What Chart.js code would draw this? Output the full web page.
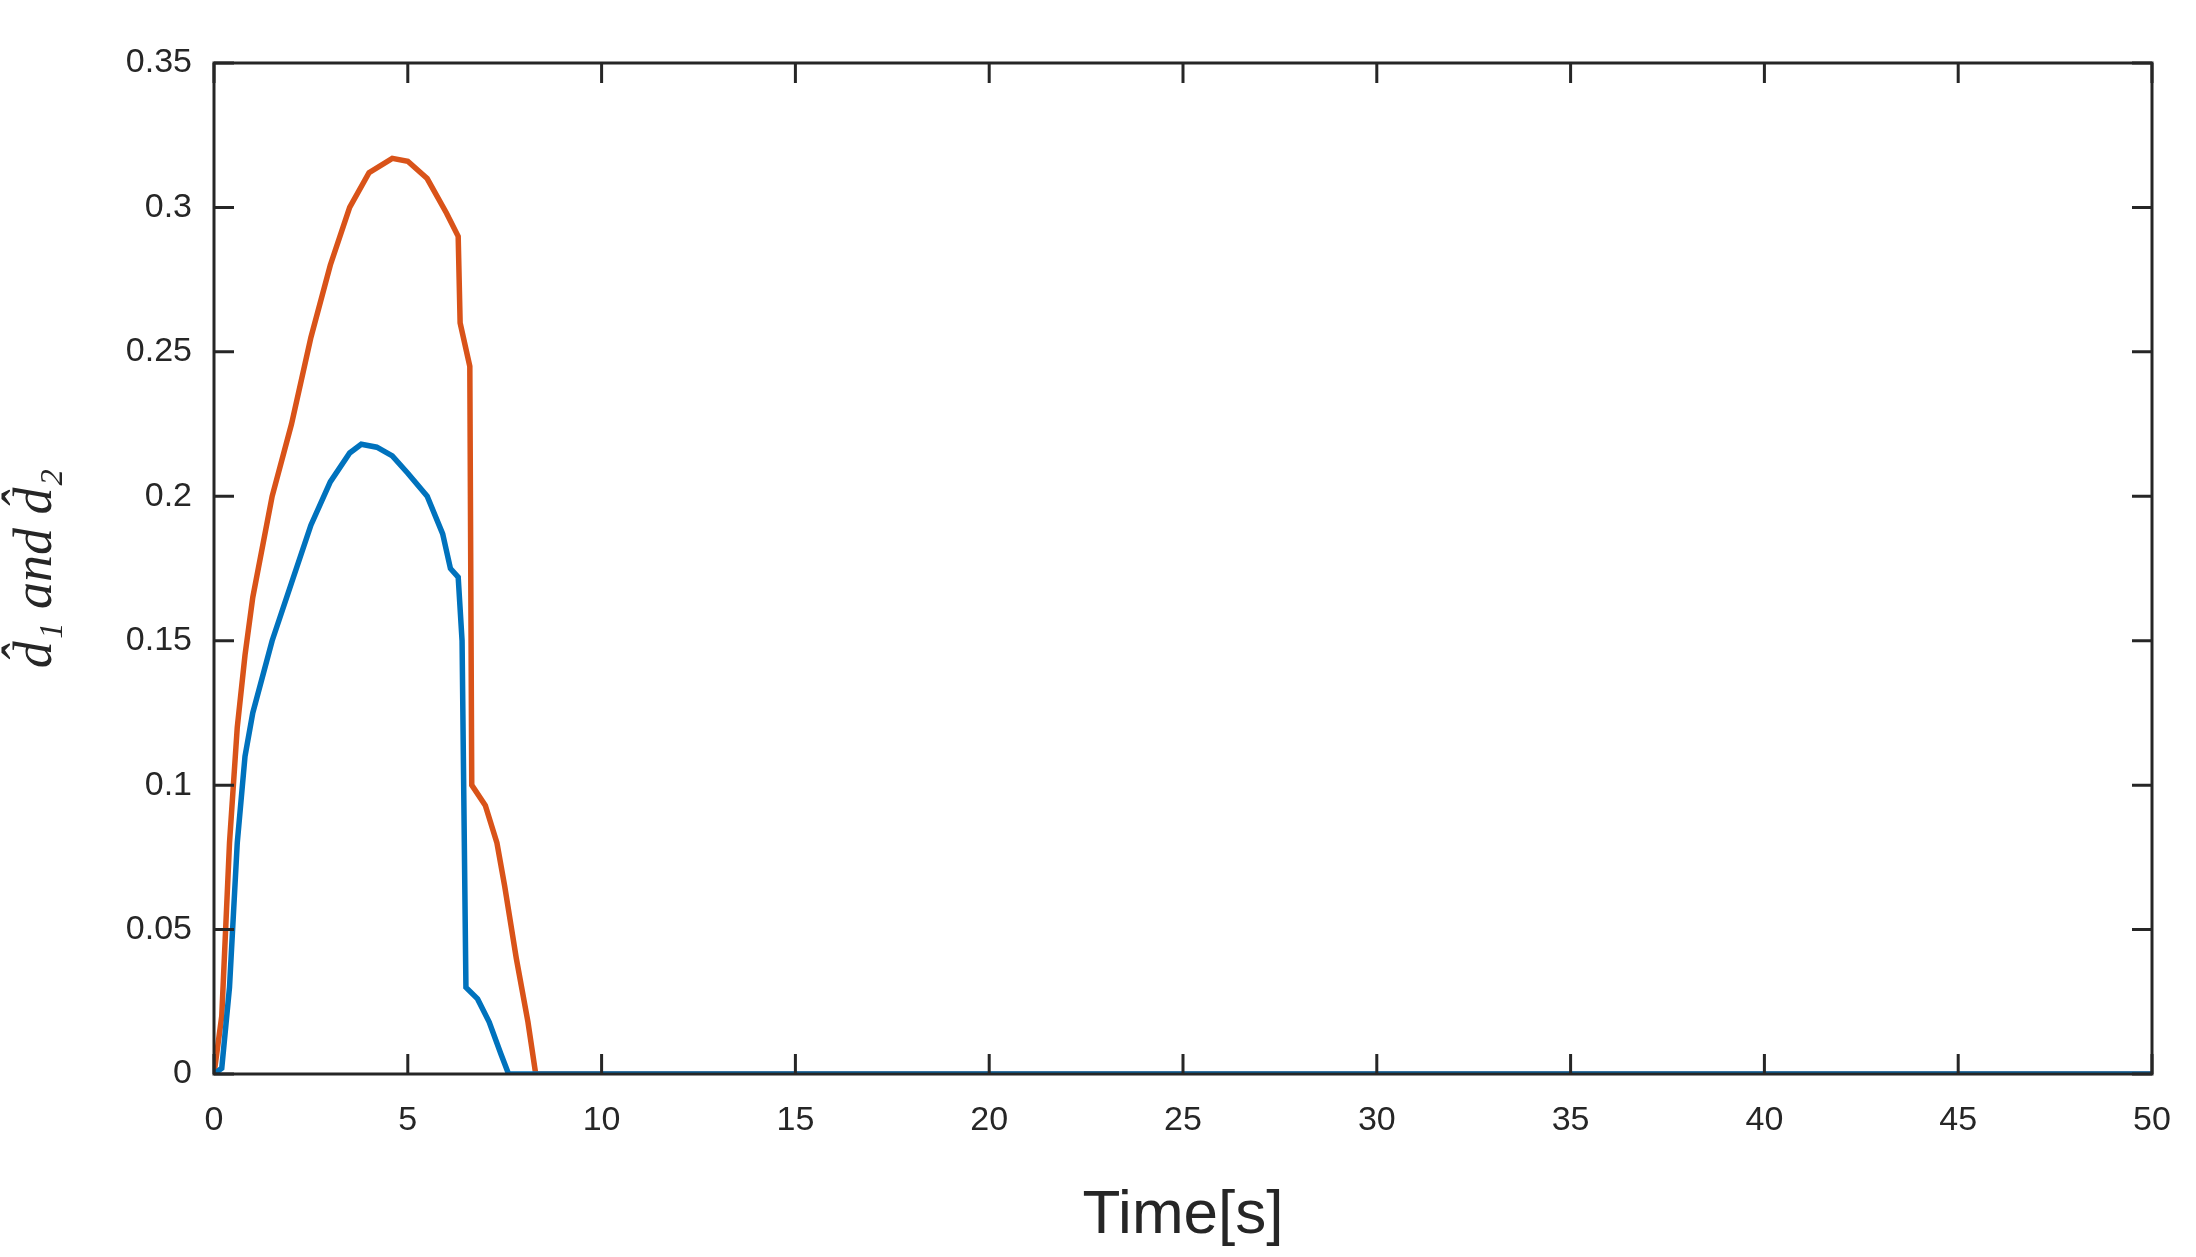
<!DOCTYPE html>
<html><head><meta charset="utf-8">
<script src="https://cdn.jsdelivr.net/npm/chart.js@4/dist/chart.umd.min.js"></script>
<style>html,body{margin:0;padding:0;background:#fff}#w{width:2196px;height:1257px}</style>
</head><body><div id="w"><canvas id="c"></canvas></div>
<script>
const d1Time = [0,0.2,0.4,0.6,0.8,1.0,1.5,2.0,2.5,3.0,3.5,3.8,4.2,4.6,5.0,5.5,5.9,6.1,6.3,6.4,6.5,6.8,7.1,7.4,7.6,50];
const d1Vals = [0,0.002,0.03,0.08,0.11,0.125,0.15,0.17,0.19,0.205,0.215,0.218,0.217,0.214,0.208,0.2,0.187,0.175,0.172,0.15,0.03,0.026,0.018,0.007,0,0];
const d2Time = [0,0.2,0.4,0.6,0.8,1.0,1.5,2.0,2.5,3.0,3.5,4.0,4.6,5.0,5.5,6.0,6.3,6.35,6.6,6.65,7.0,7.3,7.5,7.8,8.1,8.3,50];
const d2Vals = [0,0.02,0.08,0.12,0.145,0.165,0.2,0.225,0.255,0.28,0.3,0.312,0.317,0.316,0.31,0.298,0.29,0.26,0.245,0.1,0.093,0.08,0.065,0.04,0.018,0,0];
const xTicks = [0,5,10,15,20,25,30,35,40,45,50];
const yTicks = [0,0.05,0.1,0.15,0.2,0.25,0.3,0.35];
const toPts=(t,v)=>t.map((x,i)=>({x:x,y:v[i]}));
const boxTicks={id:'boxTicks',afterDatasetsDraw(ch){
 const c=ch.ctx,a=ch.chartArea,xs=ch.scales.x,ys=ch.scales.y,L=20;
 c.save();c.strokeStyle='#262626';c.lineWidth=3;
 c.strokeRect(a.left,a.top,a.right-a.left,a.bottom-a.top);
 c.beginPath();
 xTicks.forEach(v=>{const p=xs.getPixelForValue(v);c.moveTo(p,a.bottom);c.lineTo(p,a.bottom-L);c.moveTo(p,a.top);c.lineTo(p,a.top+L);});
 yTicks.forEach(v=>{const p=ys.getPixelForValue(v);c.moveTo(a.left,p);c.lineTo(a.left+L,p);c.moveTo(a.right,p);c.lineTo(a.right-L,p);});
 c.stroke();c.restore();}};
new Chart(document.getElementById('c'),{type:'line',
 data:{datasets:[
  {data:toPts(d1Time,d1Vals),borderColor:'#0072BD',borderWidth:5.5,pointRadius:0,tension:0},
  {data:toPts(d2Time,d2Vals),borderColor:'#D95319',borderWidth:5.5,pointRadius:0,tension:0}]},
 options:{responsive:true,maintainAspectRatio:false,animation:false,
  layout:{padding:{left:0,top:63,right:44,bottom:0}},
  plugins:{legend:{display:false},tooltip:{enabled:false}},
  scales:{
   x:{type:'linear',min:0,max:50,afterFit(s){s.height=183;},
    afterBuildTicks(s){s.ticks=xTicks.map(v=>({value:v}));},
    grid:{display:false},border:{display:false},
    ticks:{color:'#262626',font:{family:'Liberation Sans',size:34},padding:18,maxRotation:0},
    title:{display:true,text:'Time[s]',color:'#262626',font:{family:'Liberation Sans',size:62},padding:{top:4}}},
   y:{min:0,max:0.35,afterFit(s){s.width=214;},
    afterBuildTicks(s){s.ticks=yTicks.map(v=>({value:v}));},
    grid:{display:false},border:{display:false},
    ticks:{color:'#262626',font:{family:'Liberation Sans',size:34},padding:14,callback:v=>String(+v.toFixed(2))},
    title:{display:true,text:'d̂₁ and d̂₂',color:'#262626',font:{family:'Liberation Serif',size:54,style:'italic'},padding:{bottom:12}}}
  }},plugins:[boxTicks]});
</script></body></html>
